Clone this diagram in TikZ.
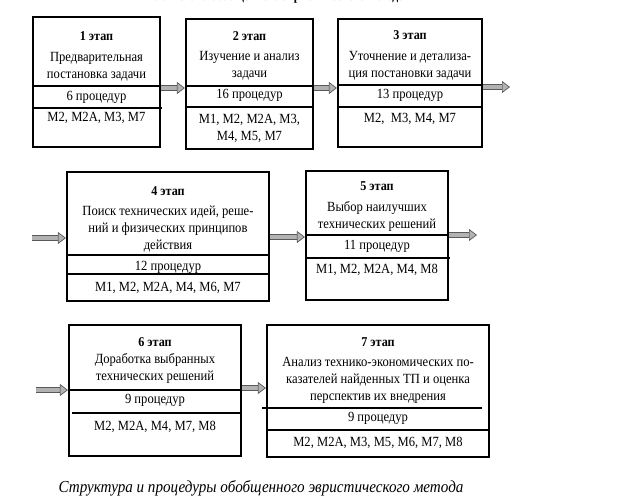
\documentclass[tikz,border=0pt]{standalone}
\usepackage{fontspec}
\setmainfont{Liberation Serif}[FakeStretch=0.9]
\usetikzlibrary{arrows.meta,positioning}

\tikzset{
  stagebox/.style={draw,line width=2.2pt,inner sep=0pt},
  sep/.style={line width=2pt},
  hd/.style={inner sep=0pt,font=\bfseries\fontsize{13.5}{15}\selectfont},
  txt/.style={inner sep=0pt,align=center,font=\fontsize{14}{17}\selectfont},
  pipe/.style={draw=black!65,line width=0.7pt,double=gray!60,double distance=4.5pt,
    -{Triangle[length=8pt,width=12pt,fill=gray!60]}}
}

\begin{document}
\begin{tikzpicture}[x=1pt,y=-1pt]
  \useasboundingbox (0,0) rectangle (623,501);
  \node[txt,font=\bfseries\fontsize{13}{15}\selectfont] (title) at (276,-3) {Блок-схема обобщенного эвристического метода};

  % stage boxes
  \node[stagebox,minimum width=127pt,minimum height=130pt] (s1) at (96.5,82) {};
  \node[stagebox,minimum width=127pt,minimum height=130pt] (s2) at (249.5,84) {};
  \node[stagebox,minimum width=144pt,minimum height=128pt] (s3) at (410,83) {};
  \node[stagebox,minimum width=202pt,minimum height=129pt] (s4) at (168,236.5) {};
  \node[stagebox,minimum width=142pt,minimum height=129pt] (s5) at (377,235.5) {};
  \node[stagebox,minimum width=172pt,minimum height=131pt] (s6) at (155,390.5) {};
  \node[stagebox,minimum width=222pt,minimum height=132pt] (s7) at (378,391) {};

  % dividers
  \draw[sep] (s1.west |- 0,86) -- (s1.east |- 0,86);
  \draw[sep] (s1.west |- 0,108) -- (162,108);
  \draw[sep] (s2.west |- 0,86) -- (s2.east |- 0,86);
  \draw[sep] (s2.west |- 0,107) -- (s2.east |- 0,107);
  \draw[sep] (s3.west |- 0,85) -- (s3.east |- 0,85);
  \draw[sep] (s3.west |- 0,107) -- (s3.east |- 0,107);
  \draw[sep] (s4.west |- 0,255) -- (s4.east |- 0,255);
  \draw[sep] (s4.west |- 0,274) -- (s4.east |- 0,274);
  \draw[sep] (s5.west |- 0,235) -- (s5.east |- 0,235);
  \draw[sep] (s5.west |- 0,258) -- (450,258);
  \draw[sep] (s6.west |- 0,390) -- (s6.east |- 0,390);
  \draw[sep] (72,413) -- (s6.east |- 0,413);
  \draw[sep] (262,408) -- (482,408);
  \draw[sep] (s7.west |- 0,430) -- (s7.east |- 0,430);

  % stage 1
  \node[hd] (h1) at (96.5,36) {1 этап};
  \node[txt] (d1) at (96.5,67) {Предварительная\\постановка задачи};
  \node[txt] (p1) at (96.5,97) {6 процедур};
  \node[txt] (m1) at (96.5,118) {M2, M2A, M3, M7};
  % stage 2
  \node[hd] (h2) at (249.5,36) {2 этап};
  \node[txt] (d2) at (249.5,66) {Изучение и анализ\\задачи};
  \node[txt] (p2) at (249.5,95) {16 процедур};
  \node[txt] (m2) at (249.5,128) {M1, M2, M2A, M3,\\M4, M5, M7};
  % stage 3
  \node[hd] (h3) at (410,35) {3 этап};
  \node[txt] (d3) at (410,66) {Уточнение и детализа-\\ция постановки задачи};
  \node[txt] (p3) at (410,95) {13 процедур};
  \node[txt] (m3) at (410,119) {M2,\ \ M3, M4, M7};
  % stage 4
  \node[hd] (h4) at (168,191) {4 этап};
  \node[txt] (d4) at (168,229) {Поиск технических идей, реше-\\ний и физических принципов\\действия};
  \node[txt] (p4) at (168,267) {12 процедур};
  \node[txt] (m4) at (168,288) {M1, M2, M2A, M4, M6, M7};
  % stage 5
  \node[hd] (h5) at (377,186) {5 этап};
  \node[txt] (d5) at (377,216) {Выбор наилучших\\технических решений};
  \node[txt] (p5) at (377,246) {11 процедур};
  \node[txt] (m5) at (377,270) {M1, M2, M2A, M4, M8};
  % stage 6
  \node[hd] (h6) at (155,342) {6 этап};
  \node[txt] (d6) at (155,368) {Доработка выбранных\\технических решений};
  \node[txt] (p6) at (155,400) {9 процедур};
  \node[txt] (m6) at (155,427) {M2, M2A, M4, M7, M8};
  % stage 7
  \node[hd] (h7) at (378,342) {7 этап};
  \node[txt] (d7) at (378,380) {Анализ технико-экономических по-\\казателей найденных ТП и оценка\\перспектив их внедрения};
  \node[txt] (p7) at (378,418) {9 процедур};
  \node[txt] (m7) at (378,443) {M2, M2A, M3, M5, M6, M7, M8};

  % arrows
  \coordinate (o1) at (510,87);
  \coordinate (i2) at (32,238);
  \coordinate (o2) at (477,235);
  \coordinate (i3) at (36,390);
  \draw[pipe] (s1.east |- 0,88) -- (s2.west |- 0,88);
  \draw[pipe] (s2.east |- 0,88) -- (s3.west |- 0,88);
  \draw[pipe] (s3.east |- 0,87) -- (o1);
  \draw[pipe] (i2) -- (s4.west |- 0,238);
  \draw[pipe] (s4.east |- 0,237) -- (s5.west |- 0,237);
  \draw[pipe] (s5.east |- 0,235) -- (o2);
  \draw[pipe] (i3) -- (s6.west |- 0,390);
  \draw[pipe] (s6.east |- 0,388) -- (s7.west |- 0,388);

  \node[txt,font=\itshape\fontsize{16.8}{18}\selectfont] (cap) at (261,488) {Структура и процедуры обобщенного эвристического метода};
\end{tikzpicture}
\end{document}
